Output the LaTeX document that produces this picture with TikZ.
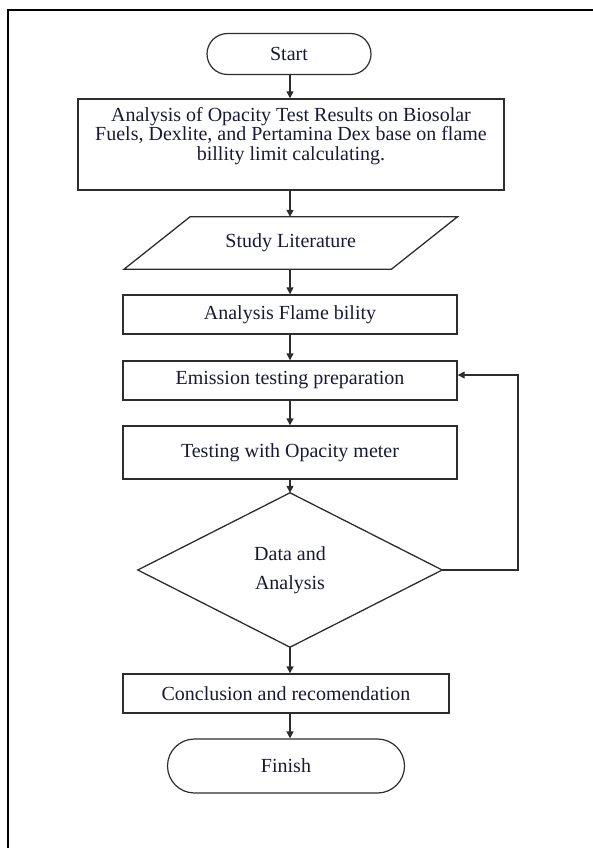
\documentclass[tikz,border=0pt]{standalone}
\usepackage{fontspec}
\setmainfont{Liberation Serif}
\usetikzlibrary{shapes.misc,arrows.meta,calc}
\definecolor{txt}{RGB}{25,25,55}
\definecolor{ln}{RGB}{45,45,45}
\begin{document}
\begin{tikzpicture}[x=1pt,y=-1pt,
  every node/.style={font=\fontsize{20}{19.5}\selectfont, text=txt},
  box/.style={draw=ln, line width=1.4pt, minimum width=334pt, minimum height=39pt, inner sep=0pt, align=center},
  term/.style={rounded rectangle, draw=ln, line width=1.2pt, inner sep=0pt},
  shapeline/.style={draw=ln, line width=1.3pt},
  arr/.style={draw=ln, line width=1.4pt, -{Triangle[length=7pt,width=7pt]}}]
\useasboundingbox (0,0) rectangle (593,848);
\draw[line width=1.5pt] (8,848) -- (8,10) -- (593,10);

\node[term, minimum width=164pt, minimum height=41pt] (start) at (289,54) {Start};

\node[box, minimum width=426pt, minimum height=91pt] (b1) at (291,144.5) {};
\node[align=center, inner sep=0pt] (b1t) at (291,136) {Analysis of Opacity Test Results on Biosolar\\Fuels, Dexlite, and Pertamina Dex base on flame\\billity limit calculating.};

\node[minimum width=267pt, minimum height=52pt, inner sep=0pt] (lit) at (290.75,243) {Study Literature};
\draw[shapeline] ($(lit.north west)+(33,0)$) -- ($(lit.north east)+(33,0)$) -- ($(lit.south east)+(-33,0)$) -- ($(lit.south west)+(-33,0)$) -- cycle;

\node[box] (b2) at (290,314.5) {Analysis Flame bility};
\node[box] (b3) at (290,380.5) {Emission testing preparation};
\node[box, minimum height=53pt] (b4) at (290,452.5) {Testing with Opacity meter};

\node[minimum width=304pt, minimum height=154pt, inner sep=0pt, align=center] (dec) at (290,570) {Data and\\[10pt]Analysis};
\draw[shapeline] (dec.north) -- (dec.east) -- (dec.south) -- (dec.west) -- cycle;

\node[box, minimum width=326pt] (b5) at (286,693.5) {Conclusion and recomendation};
\node[term, minimum width=237pt, minimum height=54pt] (fin) at (286,766) {Finish};

\draw[arr] (start.south -| dec.north) -- (b1.north -| dec.north);
\draw[arr] (b1.south -| dec.north) -- (lit.north -| dec.north);
\draw[arr] (lit.south -| dec.north) -- (b2.north);
\draw[arr] (b2.south) -- (b3.north);
\draw[arr] (b3.south) -- (b4.north);
\draw[arr] (b4.south) -- (dec.north);
\draw[arr] (dec.south) -- (b5.north -| dec.south);
\draw[arr] (b5.south -| dec.south) -- (fin.north -| dec.south);
\coordinate (fb) at (518,375);
\draw[arr] (dec.east) -| (fb) -- (b3.east |- fb);
\end{tikzpicture}
\end{document}
